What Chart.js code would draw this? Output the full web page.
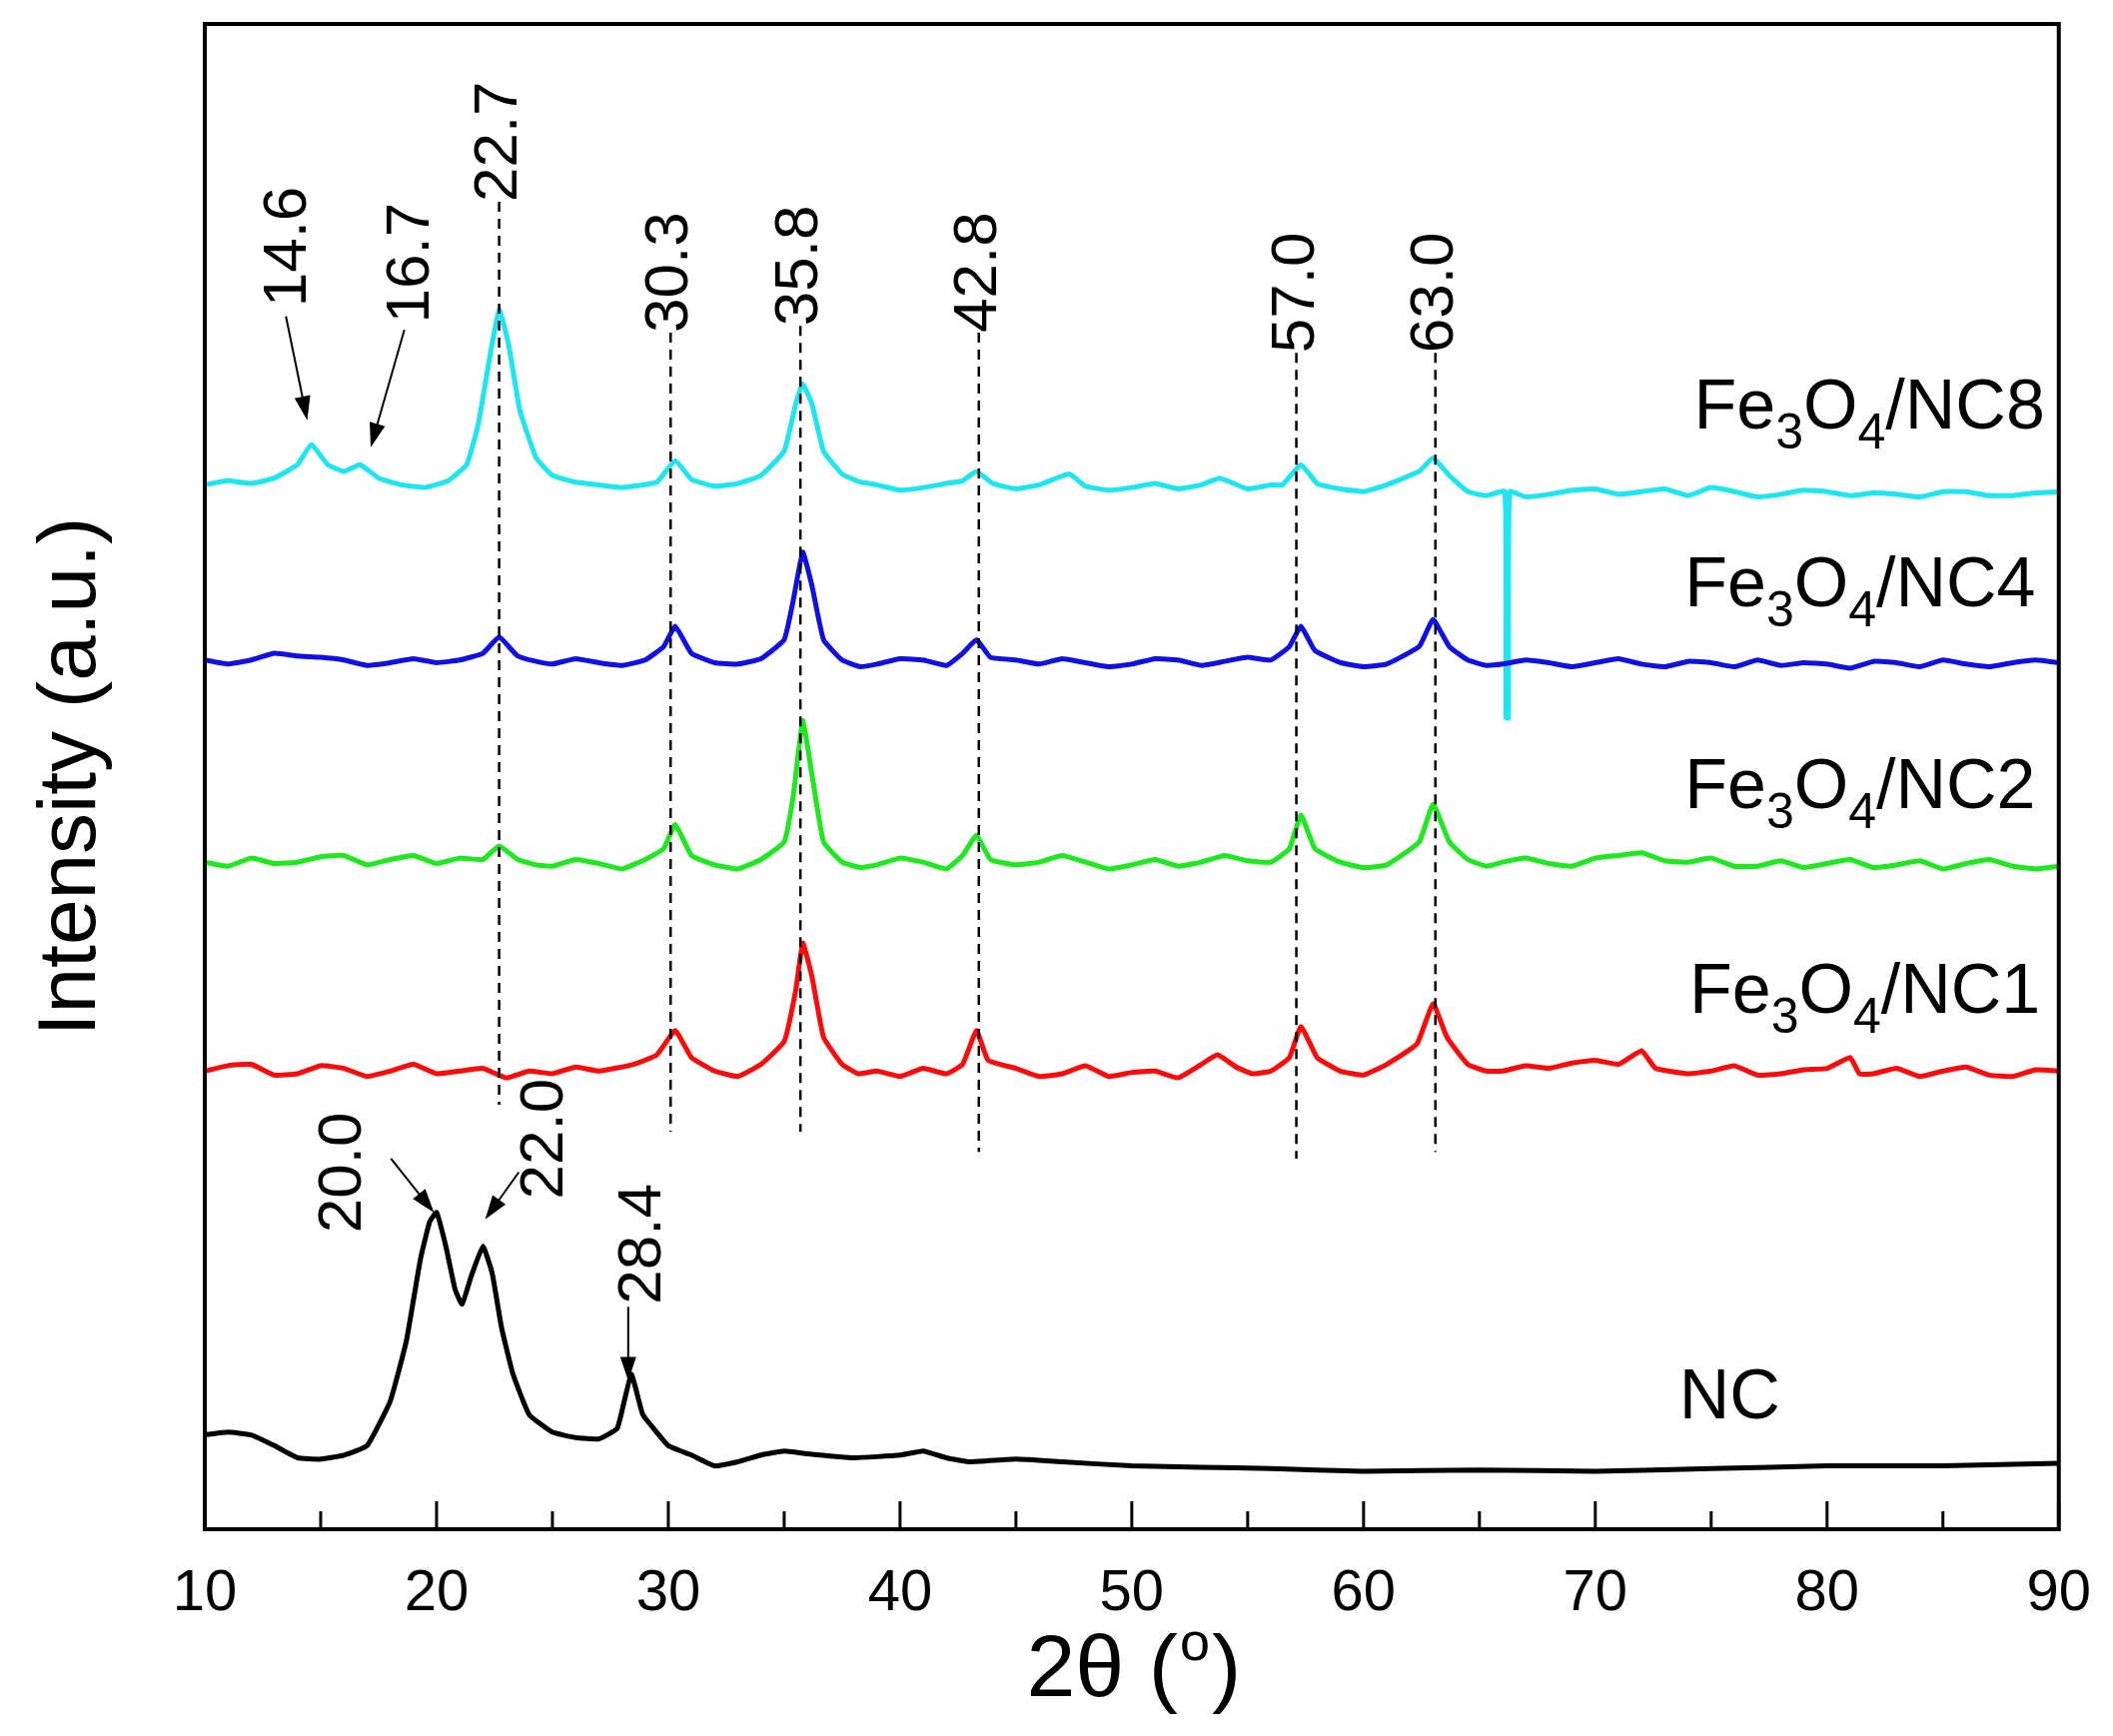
<!DOCTYPE html>
<html>
<head>
<meta charset="utf-8">
<script src="https://cdn.jsdelivr.net/npm/chart.js@4.4.0/dist/chart.umd.min.js"></script>
<style>
  body { margin: 0; background: #fff; }
  #wrap { width: 2115px; height: 1738px; }
</style>
</head>
<body>
<div id="wrap"><canvas id="xrd"></canvas></div>
<script>
// 2theta (deg) / intensity (a.u.) pairs, offset traces
const ncData = [[10,70],[11,72],[12,70],[13,62],[14,53],[15,52],[16,55],[17,62],[18,95],[18.7,140],[19.3,200],[19.7,228],[20,235],[20.4,210],[20.8,178],[21.1,167],[21.5,188],[22,210],[22.4,190],[22.8,150],[23.3,115],[24,85],[25,72],[26,68],[27,67],[27.8,75],[28.4,115],[28.9,85],[29.5,72],[30,62],[31,55],[32,47],[33,50],[34,55],[35,58],[36,56],[38,53],[40,55],[41,58],[42,53],[43,50],[45,52],[47,50],[50,47],[53,46],[56,45],[60,43],[65,44],[70,43],[75,45],[80,47],[85,47],[90,49]];
const nc1Data = [[10,340],[11,344],[12,345],[13,337],[14,338],[15,344],[16,342],[17,336],[18,340],[19,345],[20,338],[21,340],[22,342],[23,335],[24,340],[25,338],[26,343],[27,340],[28.5,345],[29.5,352],[30.3,370],[31,350],[32,340],[33,336],[34,345],[35,362],[35.5,400],[35.8,435],[36.2,410],[36.7,365],[37.5,345],[38.2,338],[39,340],[40,336],[41,342],[42,338],[42.7,345],[43.3,370],[43.8,348],[45,342],[46,336],[47,338],[48,344],[49,336],[50,339],[51,340],[52,335],[53,345],[53.7,352],[54.5,343],[55.2,338],[56,340],[56.8,350],[57.3,373],[58,350],[59,340],[60,337],[61,345],[62.3,360],[63,390],[63.6,365],[64.5,345],[65.3,340],[66,340],[67,344],[68,342],[69,346],[70,348],[71,345],[72,355],[72.6,342],[74,338],[75,340],[76,344],[77,337],[78,338],[79,341],[80,342],[81,350],[81.4,338],[82,338],[83,342],[84,336],[85,340],[86,343],[87,337],[88,336],[89,341],[90,340]];
const nc2Data = [[10,495],[11,492],[12,498],[13,494],[14,495],[15,499],[16,500],[17,493],[18,497],[19,500],[20,494],[21,498],[22,497],[22.7,507],[23.5,497],[24.3,493],[25,492],[26,497],[27,494],[28,490],[29,497],[29.8,505],[30.3,523],[31,500],[32,493],[33,490],[34,497],[35,510],[35.4,545],[35.8,600],[36.2,560],[36.7,510],[37.5,495],[38.3,491],[39,493],[40,498],[41,495],[42,490],[42.7,500],[43.3,515],[43.9,497],[45,493],[46,495],[47,500],[48,495],[49,490],[50,493],[51,497],[52,492],[53,495],[54,500],[55,496],[56,495],[56.8,505],[57.3,530],[57.9,505],[59,495],[60,491],[61,493],[62.4,510],[63,538],[63.7,510],[64.5,497],[65.3,492],[66,495],[67,498],[68,494],[69,492],[70,498],[71,500],[72,502],[73,496],[74,495],[75,498],[76,492],[77,492],[78,496],[79,491],[80,494],[81,497],[82,491],[83,493],[84,496],[85,490],[86,494],[87,497],[88,492],[89,490],[90,492]];
const nc4Data = [[10,645],[11,642],[12,645],[13,650],[14,648],[15,647],[16,645],[17,641],[18,643],[19,646],[20,643],[21,645],[22,650],[22.7,662],[23.5,648],[24.3,644],[25,642],[26,646],[27,643],[28,641],[29,645],[29.8,655],[30.3,670],[31,650],[32,643],[33,642],[34,646],[35,660],[35.4,690],[35.8,725],[36.2,700],[36.7,660],[37.5,645],[38.3,640],[39,642],[40,646],[41,645],[42,641],[42.7,650],[43.3,660],[43.9,647],[45,645],[46,642],[47,646],[48,643],[49,640],[50,642],[51,646],[52,645],[53,641],[54,644],[55,647],[56,645],[56.8,655],[57.3,670],[57.9,652],[59,643],[60,640],[61,642],[62.4,655],[63,675],[63.7,655],[64.5,645],[65.3,641],[66,642],[67,645],[68,643],[69,640],[70,643],[71,646],[72,642],[73,640],[74,644],[75,643],[76,640],[77,645],[78,641],[79,643],[80,642],[81,639],[82,644],[83,643],[84,640],[85,645],[86,642],[87,640],[88,643],[89,645],[90,643]];
const nc8Data = [[10,775],[11,778],[12,776],[13,780],[14,790],[14.6,805],[15.3,790],[16,785],[16.7,790],[17.5,780],[18.5,775],[19.5,773],[20.5,778],[21.3,790],[21.8,820],[22.3,870],[22.7,905],[23.1,880],[23.6,830],[24.3,795],[25,782],[26,777],[27,775],[28,773],[29.5,777],[30.3,793],[31,779],[32,774],[33,776],[34,782],[35,800],[35.5,835],[35.8,850],[36.2,835],[36.7,800],[37.5,783],[38.3,777],[39,775],[40,771],[41,773],[42,776],[42.7,778],[43.3,785],[44,776],[45,772],[46,775],[47.3,783],[48,774],[49,771],[50,773],[51,776],[52,772],[53,775],[53.8,780],[55,772],[56,775],[56.5,775],[57.3,790],[58,776],[59,772],[60,770],[61,775],[62.4,785],[63,795],[63.7,782],[64.5,770],[65.3,767],[66.1,770],[66.15,602],[66.25,602],[66.3,770],[67,766],[68,768],[69,771],[70,772],[71,768],[72,770],[73,772],[74,767],[75,773],[76,770],[77,766],[78,768],[79,771],[80,770],[81,767],[82,769],[83,768],[84,766],[85,770],[86,770],[87,767],[88,767],[89,769],[90,770]];

const xTicks = [10, 20, 30, 40, 50, 60, 70, 80, 90];

// peak labels: text, 2theta, intensity at the bottom of the rotated text
const peakLabels = [
  ['22.7', 22.7, 985], ['30.3', 30.1, 888], ['35.8', 35.7, 893], ['42.8', 43.4, 888],
  ['57.0', 57.1, 873], ['63.0', 63.1, 873], ['14.6', 13.6, 907], ['16.7', 18.9, 895],
  ['20.0', 16.0, 220], ['22.0', 24.7, 245], ['28.4', 28.9, 167]
];
// dashed guide lines: 2theta, top, bottom
const dashLines = [[22.7, 985, 315], [30.1, 888, 295], [35.7, 893, 295], [43.4, 888, 280], [57.1, 873, 275], [63.1, 873, 280]];
// arrows: from (x,y) to (x,y)
const arrows = [[13.5, 900, 14.42, 823], [18.61, 890, 17.16, 803], [18.03, 275, 19.89, 235], [23.55, 265, 22.1, 230], [28.27, 165, 28.27, 110]];
// trace names: sub (Fe3O4/...) , right-edge x, baseline y
const traceNames = [['NC8', 89.4, 817], ['NC4', 89.0, 685], ['NC2', 89.0, 535], ['NC1', 89.2, 383]];

const FONT = '"Liberation Sans", Arial, sans-serif';

const annotate = {
  id: 'annotate',
  afterDatasetsDraw(chart) {
    const ctx = chart.ctx;
    const xs = chart.scales.x, ys = chart.scales.y;
    const a = chart.chartArea;
    const px = v => xs.getPixelForValue(v), py = v => ys.getPixelForValue(v);
    ctx.save();
    // frame
    ctx.strokeStyle = '#000';
    ctx.lineWidth = 4;
    ctx.strokeRect(a.left, a.top, a.right - a.left, a.bottom - a.top);
    // inward ticks
    ctx.lineWidth = 3;
    for (let v = 10; v <= 90; v += 5) {
      const len = v % 10 === 0 ? 28 : 18;
      ctx.beginPath();
      ctx.moveTo(px(v), a.bottom);
      ctx.lineTo(px(v), a.bottom - len);
      ctx.stroke();
    }
    // dashed lines
    ctx.lineWidth = 2.5;
    ctx.setLineDash([10, 7]);
    dashLines.forEach(d => {
      ctx.beginPath();
      ctx.moveTo(px(d[0]), py(d[1]));
      ctx.lineTo(px(d[0]), py(d[2]));
      ctx.stroke();
    });
    ctx.setLineDash([]);
    // arrows
    ctx.lineWidth = 2;
    ctx.fillStyle = '#000';
    arrows.forEach(r => {
      const x1 = px(r[0]), y1 = py(r[1]), x2 = px(r[2]), y2 = py(r[3]);
      const ang = Math.atan2(y2 - y1, x2 - x1);
      ctx.beginPath();
      ctx.moveTo(x1, y1);
      ctx.lineTo(x2 - 14 * Math.cos(ang), y2 - 14 * Math.sin(ang));
      ctx.stroke();
      ctx.beginPath();
      ctx.moveTo(x2, y2);
      ctx.lineTo(x2 - 24 * Math.cos(ang) + 8 * Math.sin(ang), y2 - 24 * Math.sin(ang) - 8 * Math.cos(ang));
      ctx.lineTo(x2 - 24 * Math.cos(ang) - 8 * Math.sin(ang), y2 - 24 * Math.sin(ang) + 8 * Math.cos(ang));
      ctx.closePath();
      ctx.fill();
    });
    // rotated peak labels
    ctx.font = '62px ' + FONT;
    ctx.textAlign = 'left';
    ctx.textBaseline = 'middle';
    peakLabels.forEach(p => {
      ctx.save();
      ctx.translate(px(p[1]), py(p[2]));
      ctx.rotate(-Math.PI / 2);
      ctx.fillText(p[0], 0, 0);
      ctx.restore();
    });
    // trace names Fe3O4/NCx
    ctx.textBaseline = 'alphabetic';
    traceNames.forEach(t => {
      const parts = [['Fe', 0], ['3', 1], ['O', 0], ['4', 1], ['/' + t[0], 0]];
      const big = '70px ' + FONT, small = '50px ' + FONT;
      let w = 0;
      parts.forEach(q => { ctx.font = q[1] ? small : big; w += ctx.measureText(q[0]).width; });
      let x = px(t[1]) - w;
      const y = py(t[2]);
      parts.forEach(q => {
        ctx.font = q[1] ? small : big;
        ctx.fillText(q[0], x, y + (q[1] ? 20 : 0));
        x += ctx.measureText(q[0]).width;
      });
    });
    ctx.font = '70px ' + FONT;
    ctx.textAlign = 'center';
    ctx.fillText('NC', px(75.8), py(82));
    // axis titles
    ctx.font = '82px ' + FONT;
    ctx.save();
    ctx.translate(95, (a.top + a.bottom) / 2);
    ctx.rotate(-Math.PI / 2);
    ctx.fillText('Intensity (a.u.)', 0, 0);
    ctx.restore();
    const cx = (a.left + a.right) / 2, ty = 1698;
    ctx.font = '88px ' + FONT;
    const t1 = '2θ (', t3 = ')';
    const w1 = ctx.measureText(t1).width, w3 = ctx.measureText(t3).width;
    ctx.font = '54px ' + FONT;
    const w2 = ctx.measureText('o').width;
    let x0 = cx - (w1 + w2 + w3) / 2;
    ctx.textAlign = 'left';
    ctx.font = '88px ' + FONT;
    ctx.fillText(t1, x0, ty);
    ctx.font = '54px ' + FONT;
    ctx.fillText('o', x0 + w1 + 2, ty - 36);
    ctx.font = '88px ' + FONT;
    ctx.fillText(t3, x0 + w1 + w2 + 4, ty);
    ctx.restore();
  }
};

function series(data, color) {
  return {
    data: data.map(p => ({ x: p[0], y: p[1] })),
    borderColor: color,
    borderWidth: 5,
    pointRadius: 0,
    tension: 0.12,
    fill: false
  };
}

new Chart(document.getElementById('xrd'), {
  type: 'line',
  data: {
    datasets: [
      series(ncData, '#000000'),
      series(nc1Data, '#ff0a0a'),
      series(nc2Data, '#1ee81e'),
      series(nc4Data, '#1010e6'),
      series(nc8Data, '#1ee6f0')
    ]
  },
  options: {
    responsive: true,
    maintainAspectRatio: false,
    animation: false,
    layout: { padding: { left: 0, right: 54, top: 24, bottom: 0 } },
    plugins: { legend: { display: false }, tooltip: { enabled: false } },
    scales: {
      x: {
        type: 'linear', min: 10, max: 90,
        afterBuildTicks: s => { s.ticks = xTicks.map(v => ({ value: v })); },
        afterFit: s => { s.height = 207; },
        grid: { display: false },
        border: { display: false },
        ticks: { font: { size: 58, family: FONT }, color: '#000', padding: 22, maxRotation: 0 }
      },
      y: {
        type: 'linear', min: 0, max: 1117,
        afterFit: s => { s.width = 205; },
        grid: { display: false },
        border: { display: false },
        ticks: { display: false }
      }
    }
  },
  plugins: [annotate]
});
</script>
</body>
</html>
